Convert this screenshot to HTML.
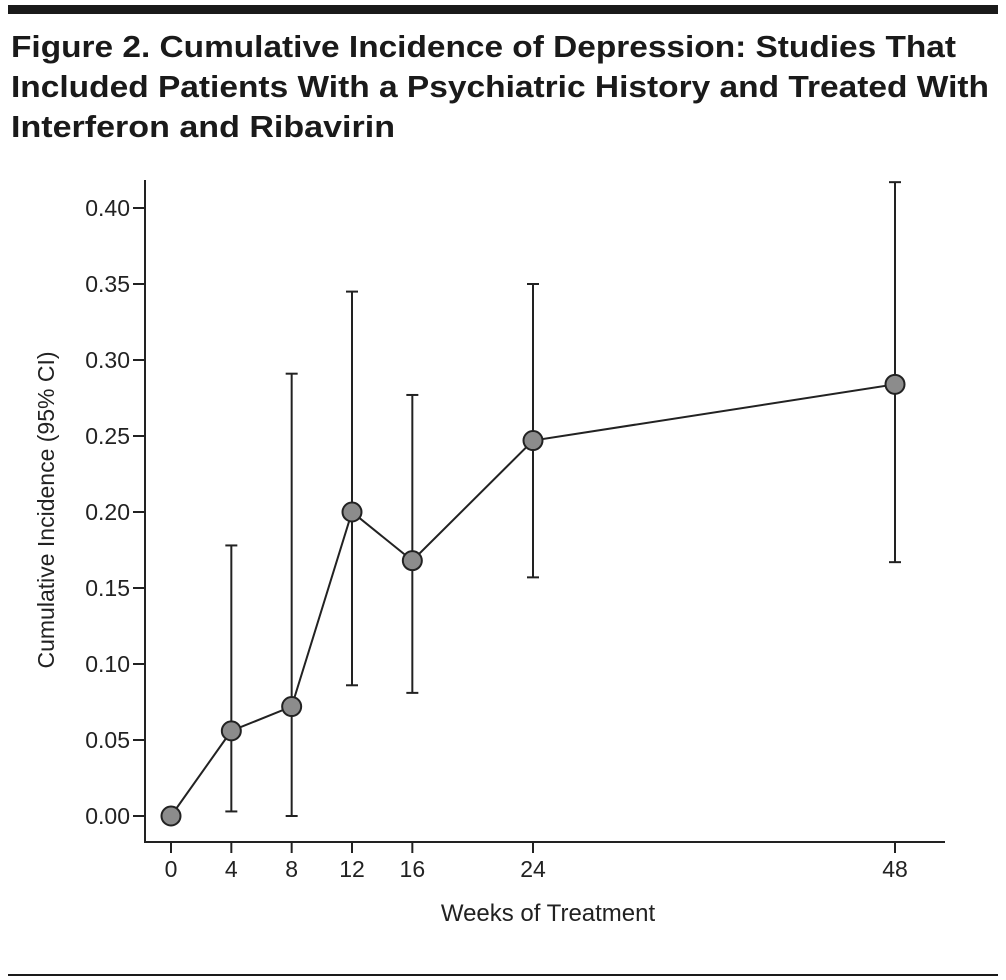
<!DOCTYPE html>
<html><head><meta charset="utf-8"><style>
html,body{margin:0;padding:0;background:#fff}
svg{display:block;font-family:"Liberation Sans",sans-serif}
</style></head><body>
<svg width="1006" height="980" viewBox="0 0 1006 980">
<rect x="8" y="5" width="990" height="9" fill="#1a1a1a"/>
<g font-weight="bold" font-size="31" fill="#1a1a1a">
<text x="11" y="57" textLength="945" lengthAdjust="spacingAndGlyphs">Figure 2. Cumulative Incidence of Depression: Studies That</text>
<text x="11" y="97" textLength="978" lengthAdjust="spacingAndGlyphs">Included Patients With a Psychiatric History and Treated With</text>
<text x="11" y="137" textLength="384" lengthAdjust="spacingAndGlyphs">Interferon and Ribavirin</text>
</g>
<g id="chart"></g>
<rect x="8" y="974" width="990" height="2" fill="#1a1a1a"/>
</svg>
<script>
const weeks = [0, 4, 8, 12, 16, 24, 48];
const incidence = [0.0, 0.056, 0.072, 0.2, 0.168, 0.247, 0.284];
const ciUpper = [0.0, 0.178, 0.291, 0.345, 0.277, 0.35, 0.417];
const ciLower = [0.0, 0.003, 0.0, 0.086, 0.081, 0.157, 0.167];
const yTicks = [0, 0.05, 0.10, 0.15, 0.20, 0.25, 0.30, 0.35, 0.40];
const yTickLabels = ["0.00","0.05","0.10","0.15","0.20","0.25","0.30","0.35","0.40"];
const xTicks = [0, 4, 8, 12, 16, 24, 48];

const NS = "http://www.w3.org/2000/svg";
const g = document.getElementById('chart');
const xS = w => 171 + (w - 0) * (895 - 171) / 48;
const yS = v => 816 - v * (816 - 208) / 0.4;
function mk(tag, attrs, parent) {
  const e = document.createElementNS(NS, tag);
  for (const k in attrs) e.setAttribute(k, attrs[k]);
  (parent || g).appendChild(e);
  return e;
}
const C = "#222";
let e;
e = mk('line', {x1:145, y1:180, x2:145, y2:842, stroke:C, 'stroke-width':2});


e = mk('line', {x1:144, y1:842, x2:945, y2:842, stroke:C, 'stroke-width':2});


yTicks.forEach((v, i) => {
  const y = yS(v);
  let t = mk('line', {x1:133, y1:y, x2:145, y2:y, stroke:C, 'stroke-width':2});
  
  
  let l = mk('text', {x:130, y:y + 8, 'text-anchor':'end', 'font-size':23, fill:C});
  l.textContent = yTickLabels[i];
  
  
});
xTicks.forEach(w => {
  const x = xS(w);
  let t = mk('line', {x1:x, y1:842, x2:x, y2:853, stroke:C, 'stroke-width':2});
  
  
  let l = mk('text', {x:x, y:877, 'text-anchor':'middle', 'font-size':23, fill:C});
  l.textContent = String(w);
  
  
});
e = mk('text', {x:548, y:921, 'text-anchor':'middle', 'font-size':24, fill:C});
e.textContent = 'Weeks of Treatment';


e = mk('text', {x:0, y:0, 'text-anchor':'middle', 'font-size':23, fill:C, transform:'translate(54,510) rotate(-90)'});
e.textContent = 'Cumulative Incidence (95% CI)';


weeks.forEach((w, i) => {
  if (ciUpper[i] === ciLower[i]) return;
  const x = xS(w);
  const eg = mk('g', {stroke:C, 'stroke-width':2});
  
  
  mk('line', {x1:x, y1:yS(ciUpper[i]), x2:x, y2:yS(ciLower[i])}, eg);
  mk('line', {x1:x-6, y1:yS(ciUpper[i]), x2:x+6, y2:yS(ciUpper[i])}, eg);
  mk('line', {x1:x-6, y1:yS(ciLower[i]), x2:x+6, y2:yS(ciLower[i])}, eg);
});
e = mk('polyline', {points: weeks.map((w, i) => xS(w) + ',' + yS(incidence[i])).join(' '), fill:'none', stroke:C, 'stroke-width':2});


weeks.forEach((w, i) => {
  let c = mk('circle', {cx:xS(w), cy:yS(incidence[i]), r:9.5, fill:'#8c8c8c', stroke:C, 'stroke-width':2});
  
  
});
</script>
</body></html>
